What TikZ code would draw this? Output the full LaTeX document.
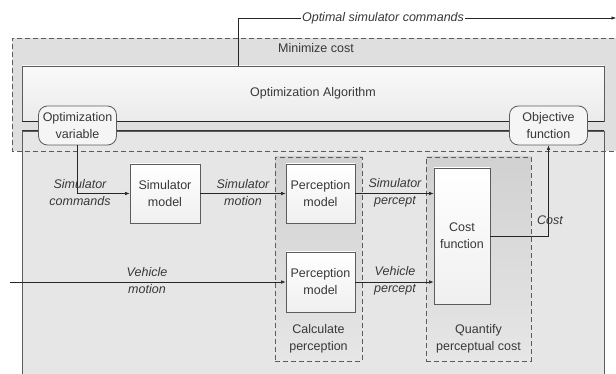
\documentclass[tikz,border=0pt]{standalone}
\usepackage{fontspec}
\setmainfont{Liberation Sans}
\usetikzlibrary{arrows.meta,calc}
\definecolor{txt}{HTML}{383838}
\definecolor{edge}{HTML}{5C5C5C}
\definecolor{panel}{HTML}{E6E6E6}
\tikzset{
  every node/.style={text=txt, font=\fontsize{12.5}{17}\selectfont, align=center},
  block/.style={draw=edge, line width=0.8pt, top color=white, bottom color=black!6,
                inner sep=0pt},
  pill/.style={draw=edge, line width=0.8pt, rounded corners=9pt, fill=white!96!black,
               inner sep=0pt, minimum width=78pt, minimum height=39pt},
  group/.style={draw=edge, dashed, dash pattern=on 5pt off 3pt, line width=0.8pt,
                top color=black!18, bottom color=panel},
  flow/.style={draw=black!85, line width=0.6pt, -{Latex[length=4.5pt,width=3.5pt]}},
  wire/.style={draw=black!85, line width=0.6pt},
  lab/.style={font=\fontsize{12.5}{17}\selectfont\itshape, inner sep=0pt},
}
\begin{document}
\begin{tikzpicture}[x=1pt,y=-1pt]
\useasboundingbox (0,0) rectangle (616,374);
\clip (0,0) rectangle (616,374);

% optimisation region, filled first
\fill[panel!97!black] (12,38) rectangle (630,151);
\node at (316,48) {Minimize cost};

% optimisation algorithm bar
\node[block, minimum width=582pt, minimum height=55pt, top color=white!98!black,
      bottom color=black!8] (alg) at (313,93.5) {Optimization Algorithm};
\draw[black!85, line width=0.8pt] (alg.south west) -- (alg.south east);

% evaluation panel
\node[draw=edge, line width=0.8pt, fill=panel, minimum width=582pt, minimum height=260pt,
      inner sep=0pt] (panel) at (313,261) {};
\draw[black!80, line width=0.8pt] (panel.north west) -- (panel.north east);

% dashed outline of the optimisation region, on top
\draw[edge, dashed, dash pattern=on 5pt off 3pt, line width=0.8pt]
  (630,38) -- (12,38) -- (12,151) -- (630,151);

% dashed groups
\node[group, minimum width=87pt, minimum height=204pt, inner sep=0pt] (calc) at (318.5,259) {};
\node[anchor=south] at ($(calc.south)+(0,-5)$) {Calculate\\perception};
\node[group, minimum width=105pt, minimum height=204pt, inner sep=0pt] (quant) at (478.5,259) {};
\node[anchor=south] at ($(quant.south)+(0,-5)$) {Quantify\\perceptual cost};

% blocks
\node[block, minimum width=70pt, minimum height=59pt] (sim) at (165,193.5) {Simulator\\model};
\node[block, minimum width=69pt, minimum height=59pt] (per1) at (320.5,193.5) {Perception\\model};
\node[block, minimum width=69pt, minimum height=60pt] (per2) at (320.5,282) {Perception\\model};
\node[block, minimum width=56pt, minimum height=136pt] (cost) at (462,236) {Cost\\function};

% rounded interface nodes
\node[pill] (var) at (77.5,125.5) {Optimization\\variable};
\node[pill] (obj) at (548.5,125.5) {Objective\\function};

% connectors
\draw[flow] (var.south) |- (sim.west);
\node[lab] at (80,193) {Simulator\\commands};
\draw[flow] (sim.east) -- (per1.west);
\node[lab] at (243,193) {Simulator\\motion};
\draw[flow] (per1.east) -- (per1.east -| cost.west);
\node[lab] at (395,193) {Simulator\\percept};
\coordinate (vin) at (10,282);
\draw[flow] (vin) -- (per2.west);
\node[lab] at (147,281) {Vehicle\\motion};
\draw[flow] (per2.east) -- (per2.east -| cost.west);
\node[lab] at (395,281) {Vehicle\\percept};
\draw[flow] (cost.east) -| (obj.south);
\node[lab] at (550,220) {Cost};

% output of the optimisation
\coordinate (out) at (616,18);
\draw[flow] ($(alg.north west)!0.3725!(alg.north east)$) |- (out);
\node[lab, fill=white, inner xsep=1pt] at (383,18) {Optimal simulator commands};
\end{tikzpicture}
\end{document}
